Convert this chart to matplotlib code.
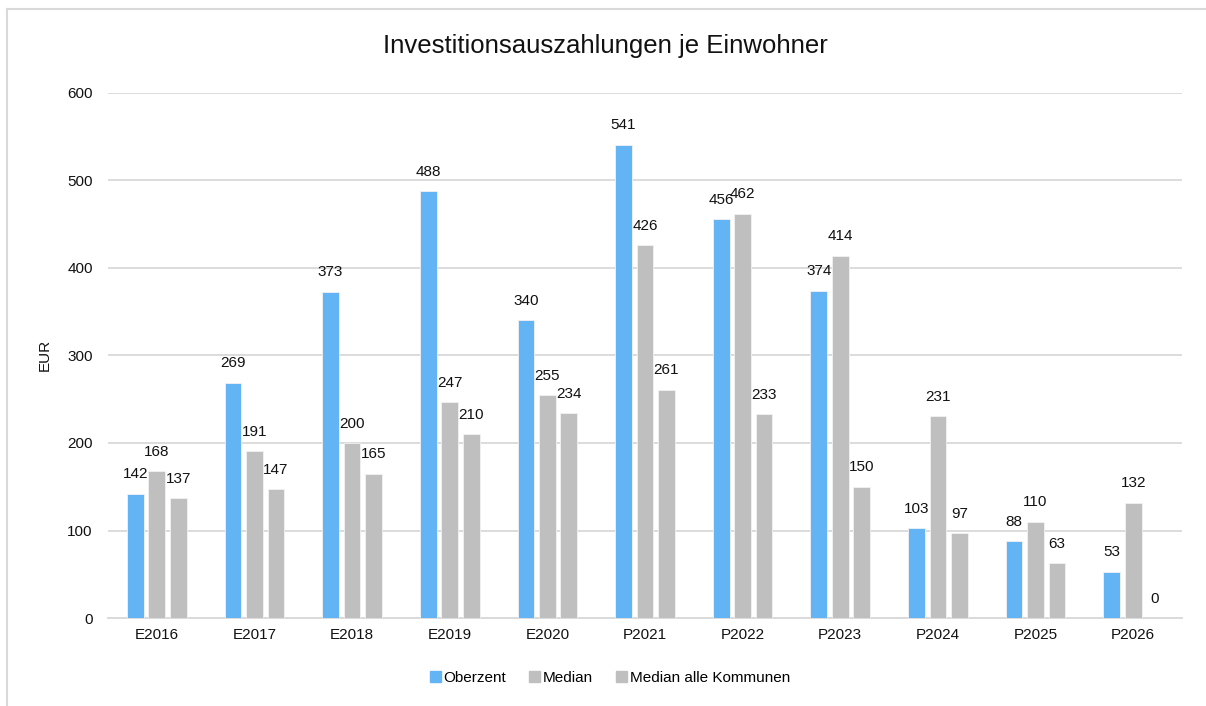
import matplotlib
matplotlib.use("Agg")
import matplotlib.pyplot as plt
import numpy as np
from matplotlib.patches import Rectangle
from matplotlib.lines import Line2D

categories = ["E2016", "E2017", "E2018", "E2019", "E2020", "P2021", "P2022", "P2023", "P2024", "P2025", "P2026"]
oberzent = [142, 269, 373, 488, 340, 541, 456, 374, 103, 88, 53]
median = [168, 191, 200, 247, 255, 426, 462, 414, 231, 110, 132]
median_alle = [137, 147, 165, 210, 234, 261, 233, 150, 97, 63, 0]
series_names = ["Oberzent", "Median", "Median alle Kommunen"]
colors = ["#63B4F5", "#BFBFBF", "#BFBFBF"]

plt.rcParams['font.family'] = ['Liberation Sans', 'DejaVu Sans']

fig = plt.figure(figsize=(12.06, 7.06), dpi=100)
W, H = 1206, 706
ax = fig.add_axes([108 / W, 1 - 618 / H, (1182 - 108) / W, (618 - 93) / H])

x = np.arange(len(categories))
bw = 0.171
step = 0.22
for i, (vals, c) in enumerate(zip([oberzent, median, median_alle], colors)):
    pos = x + (i - 1) * step
    ax.bar(pos, vals, width=bw, color=c, edgecolor="#f2f2f2", linewidth=0.6, zorder=3)
    for px, v in zip(pos, vals):
        ax.annotate(str(v), (px, v), xytext=(0, 11), textcoords="offset points",
                    ha="center", va="baseline", fontsize=11, color="#111111", zorder=4)

ax.set_xlim(-0.5, len(categories) - 0.5)
ax.set_ylim(0, 600)
ax.set_yticks(range(0, 601, 100))
ax.set_xticks(x)
ax.set_xticklabels(categories)
ax.tick_params(axis="both", length=0, labelsize=11, labelcolor="#111111")
ax.tick_params(axis="y", pad=11)
ax.tick_params(axis="x", pad=7)
ax.grid(axis="y", color="#D9D9D9", linewidth=1.3, zorder=0)
for s in ["top", "right", "left"]:
    ax.spines[s].set_visible(False)
ax.spines["bottom"].set_color("#D9D9D9")
ax.spines["bottom"].set_linewidth(1.3)
ax.spines["bottom"].set_zorder(2)

fig.text(45 / W, 1 - 355 / H, "EUR", rotation=90, ha="center", va="center", fontsize=11, color="#111111")
fig.text(605 / W, 1 - 46 / H, "Investitionsauszahlungen je Einwohner", ha="center", va="center",
         fontsize=18.5, color="#111111")

handles = [Rectangle((0, 0), 1, 1, color=c) for c in colors]
fig.legend(handles, series_names, loc="center", bbox_to_anchor=(610 / W, 1 - 678 / H), ncol=3,
           frameon=False, fontsize=11, handlelength=0.7, handleheight=0.7, handletextpad=0.2,
           columnspacing=1.5)

# outer chart border (left and top visible)
fig.add_artist(Line2D([7 / W, 7 / W], [0, 1 - 9 / H], transform=fig.transFigure, color="#D9D9D9", linewidth=1.5))
fig.add_artist(Line2D([7 / W, 1], [1 - 9 / H, 1 - 9 / H], transform=fig.transFigure, color="#D9D9D9", linewidth=1.5))

fig.savefig("out.png", dpi=100, facecolor="white")
